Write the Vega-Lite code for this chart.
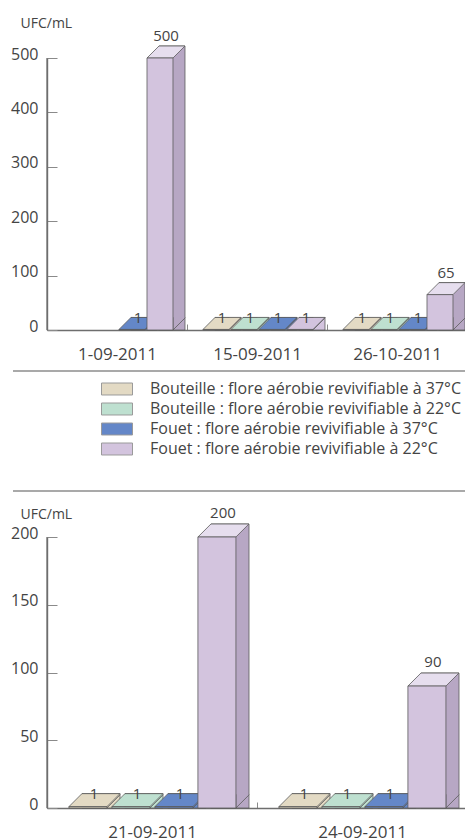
{
  "$schema": "https://vega.github.io/schema/vega-lite/v6.json",
  "padding": {"left": 9, "top": 15, "right": 0, "bottom": 0},
  "bounds": "flush",
  "spacing": 41,
  "config": {
    "view": {"stroke": null},
    "font": "Open Sans",
    "axis": {"labelFont": "Open Sans", "titleFont": "Open Sans", "labelColor": "#444", "titleColor": "#444", "domain": true, "domainWidth": 1.4, "domainColor": "#6e6e6e", "tickColor": "#8a8a8a", "tickWidth": 1, "grid": false, "titleFontWeight": "normal"},
    "legend": {"orient": "none", "legendX": 54, "legendY": 321, "title": null, "labelFont": "Open Sans", "labelFontSize": 16, "labelColor": "#444", "labelLimit": 400, "labelOffset": 17, "symbolType": "M-1,-0.387H1V0.387H-1Z", "symbolSize": 961, "symbolStrokeColor": "#9a9a9a", "symbolStrokeWidth": 1, "clipHeight": 20, "rowPadding": 0, "padding": 0}
  },
  "datasets": {
    "haut": [
      {"date": "1-09-2011", "serie": "Fouet : flore aérobie revivifiable à 37°C", "valeur": 1},
      {"date": "1-09-2011", "serie": "Fouet : flore aérobie revivifiable à 22°C", "valeur": 500},
      {"date": "15-09-2011", "serie": "Bouteille : flore aérobie revivifiable à 37°C", "valeur": 1},
      {"date": "15-09-2011", "serie": "Bouteille : flore aérobie revivifiable à 22°C", "valeur": 1},
      {"date": "15-09-2011", "serie": "Fouet : flore aérobie revivifiable à 37°C", "valeur": 1},
      {"date": "15-09-2011", "serie": "Fouet : flore aérobie revivifiable à 22°C", "valeur": 1},
      {"date": "26-10-2011", "serie": "Bouteille : flore aérobie revivifiable à 37°C", "valeur": 1},
      {"date": "26-10-2011", "serie": "Bouteille : flore aérobie revivifiable à 22°C", "valeur": 1},
      {"date": "26-10-2011", "serie": "Fouet : flore aérobie revivifiable à 37°C", "valeur": 1},
      {"date": "26-10-2011", "serie": "Fouet : flore aérobie revivifiable à 22°C", "valeur": 65}
    ],
    "bas": [
      {"date": "21-09-2011", "serie": "Bouteille : flore aérobie revivifiable à 37°C", "valeur": 1},
      {"date": "21-09-2011", "serie": "Bouteille : flore aérobie revivifiable à 22°C", "valeur": 1},
      {"date": "21-09-2011", "serie": "Fouet : flore aérobie revivifiable à 37°C", "valeur": 1},
      {"date": "21-09-2011", "serie": "Fouet : flore aérobie revivifiable à 22°C", "valeur": 200},
      {"date": "24-09-2011", "serie": "Bouteille : flore aérobie revivifiable à 37°C", "valeur": 1},
      {"date": "24-09-2011", "serie": "Bouteille : flore aérobie revivifiable à 22°C", "valeur": 1},
      {"date": "24-09-2011", "serie": "Fouet : flore aérobie revivifiable à 37°C", "valeur": 1},
      {"date": "24-09-2011", "serie": "Fouet : flore aérobie revivifiable à 22°C", "valeur": 90}
    ]
  },
  "vconcat": [
    {
      "width": 420,
      "height": 272,
      "view": {"stroke": "#6e6e6e", "strokeWidth": 1.4, "strokeDash": [0, 1112, 272, 0]},
      "data": {"name": "haut"},
      "encoding": {
        "x": {"field": "date", "type": "nominal", "sort": null, "scale": {"type": "band", "paddingInner": 0, "paddingOuter": 0},
              "axis": {"title": null, "labelAngle": 0, "labelFontSize": 17, "tickBand": "extent", "tickSize": -6, "labelPadding": 22}},
        "xOffset": {"field": "serie", "type": "nominal", "sort": null,
              "scale": {"type": "band", "domain": ["Bouteille : flore aérobie revivifiable à 37°C", "Bouteille : flore aérobie revivifiable à 22°C", "Fouet : flore aérobie revivifiable à 37°C", "Fouet : flore aérobie revivifiable à 22°C"], "paddingInner": 0.0714, "paddingOuter": 0.5357, "align": 0.533}},
        "y": {"field": "valeur", "type": "quantitative", "stack": null, "scale": {"domain": [0, 500], "nice": false},
              "axis": {"title": "UFC/mL", "domain": true, "titleAngle": 0, "titleAlign": "left", "titleBaseline": "alphabetic", "titleX": -27, "titleY": -31, "titleFontSize": 14, "values": [0, 100, 200, 300, 400, 500], "tickSize": -10, "labelPadding": 19, "labelFontSize": 16, "labelOffset": -4}},
        "color": {"field": "serie", "type": "nominal", "sort": null,
              "scale": {"domain": ["Bouteille : flore aérobie revivifiable à 37°C", "Bouteille : flore aérobie revivifiable à 22°C", "Fouet : flore aérobie revivifiable à 37°C", "Fouet : flore aérobie revivifiable à 22°C"], "range": ["#e3dac4", "#bee0d0", "#6487c8", "#d3c4de"]}}
      },
      "layer": [
        {
          "mark": {"type": "bar", "yOffset": -12, "y2Offset": -12, "stroke": "#5a5a5a", "strokeWidth": 0.8},
          "encoding": {
            "xOffset": {"field": "serie", "type": "nominal", "sort": null,
              "scale": {"type": "band", "domain": ["Bouteille : flore aérobie revivifiable à 37°C", "Bouteille : flore aérobie revivifiable à 22°C", "Fouet : flore aérobie revivifiable à 37°C", "Fouet : flore aérobie revivifiable à 22°C"], "paddingInner": 0.0714, "paddingOuter": 0.5357, "align": 0.933}},
            "color": {"field": "serie", "type": "nominal", "sort": null, "condition": {"test": "datum.valeur > 1", "value": "#b7a7c4"}}
          }
        },
        {
          "mark": {"type": "point", "shape": "M13,-12.7L13,0L25,-12L25,-12.7", "size": 4, "filled": true, "opacity": 1, "stroke": "#5a5a5a", "strokeWidth": 0.8},
          "encoding": {
            "y": {"datum": 0, "type": "quantitative"},
            "color": {"field": "serie", "type": "nominal", "sort": null, "condition": {"test": "datum.valeur > 1", "value": "#b7a7c4"}}
          }
        },
        {
          "mark": {"type": "point", "shape": "M-13,0L13,0L25,-12L-1,-12Z", "size": 4, "filled": true, "opacity": 1, "stroke": "#5a5a5a", "strokeWidth": 0.8},
          "encoding": {
            "color": {"field": "serie", "type": "nominal", "sort": null, "condition": {"test": "datum.valeur > 1", "value": "#e6deee"}}
          }
        },
        {
          "mark": {"type": "bar", "stroke": "#5a5a5a", "strokeWidth": 0.8}
        },
        {
          "transform": [{"filter": "datum.valeur > 1"}],
          "mark": {"type": "text", "dx": 6, "dy": -17, "fontSize": 15, "baseline": "alphabetic"},
          "encoding": {"text": {"field": "valeur", "type": "quantitative"}, "color": {"value": "#444"}}
        },
        {
          "transform": [{"filter": "datum.valeur <= 1"}],
          "mark": {"type": "text", "dx": 6, "dy": -6, "fontSize": 15, "baseline": "alphabetic"},
          "encoding": {"text": {"field": "valeur", "type": "quantitative"}, "color": {"value": "#444"}}
        }
      ],
      "resolve": {"scale": {"xOffset": "independent"}}
    },
    {
      "width": 420,
      "height": 125,
      "data": {"values": [{"separateur": "ligne"}]},
      "layer": [
        {
          "mark": {"type": "rule", "stroke": "#8c8c8c", "strokeWidth": 1.5},
          "encoding": {
            "x": {"datum": -0.081, "type": "quantitative", "scale": {"domain": [0, 1], "nice": false, "zero": false}, "axis": null},
            "x2": {"datum": 1},
            "y": {"datum": 1, "type": "quantitative", "scale": {"domain": [0, 1], "nice": false}, "axis": null}
          }
        },
        {
          "mark": {"type": "rule", "stroke": "#8c8c8c", "strokeWidth": 1.5},
          "encoding": {
            "x": {"datum": -0.081, "type": "quantitative", "scale": {"domain": [0, 1], "nice": false, "zero": false}, "axis": null},
            "x2": {"datum": 1},
            "y": {"datum": 0.04, "type": "quantitative", "scale": {"domain": [0, 1], "nice": false}, "axis": null}
          }
        }
      ]
    },
    {
      "width": 420,
      "height": 271,
      "view": {"stroke": "#6e6e6e", "strokeWidth": 1.4, "strokeDash": [0, 1111, 271, 0]},
      "data": {"name": "bas"},
      "encoding": {
        "x": {"field": "date", "type": "nominal", "sort": null, "scale": {"type": "band", "paddingInner": 0, "paddingOuter": 0},
              "axis": {"title": null, "labelAngle": 0, "labelFontSize": 17, "tickBand": "extent", "tickSize": -6, "labelPadding": 22}},
        "xOffset": {"field": "serie", "type": "nominal", "sort": null,
              "scale": {"type": "band", "domain": ["Bouteille : flore aérobie revivifiable à 37°C", "Bouteille : flore aérobie revivifiable à 22°C", "Fouet : flore aérobie revivifiable à 37°C", "Fouet : flore aérobie revivifiable à 22°C"], "paddingInner": 0.116, "paddingOuter": 0.5, "align": 0.51}},
        "y": {"field": "valeur", "type": "quantitative", "stack": null, "scale": {"domain": [0, 200], "nice": false},
              "axis": {"title": "UFC/mL", "domain": true, "titleAngle": 0, "titleAlign": "left", "titleBaseline": "alphabetic", "titleX": -27, "titleY": -19, "titleFontSize": 14, "values": [0, 50, 100, 150, 200], "tickSize": -10, "labelPadding": 19, "labelFontSize": 16, "labelOffset": -4}},
        "color": {"field": "serie", "type": "nominal", "sort": null,
              "scale": {"domain": ["Bouteille : flore aérobie revivifiable à 37°C", "Bouteille : flore aérobie revivifiable à 22°C", "Fouet : flore aérobie revivifiable à 37°C", "Fouet : flore aérobie revivifiable à 22°C"], "range": ["#e3dac4", "#bee0d0", "#6487c8", "#d3c4de"]}}
      },
      "layer": [
        {
          "mark": {"type": "bar", "yOffset": -13, "y2Offset": -13, "stroke": "#5a5a5a", "strokeWidth": 0.8},
          "encoding": {
            "xOffset": {"field": "serie", "type": "nominal", "sort": null,
              "scale": {"type": "band", "domain": ["Bouteille : flore aérobie revivifiable à 37°C", "Bouteille : flore aérobie revivifiable à 22°C", "Fouet : flore aérobie revivifiable à 37°C", "Fouet : flore aérobie revivifiable à 22°C"], "paddingInner": 0.116, "paddingOuter": 0.5, "align": 0.814}},
            "color": {"field": "serie", "type": "nominal", "sort": null, "condition": {"test": "datum.valeur > 1", "value": "#b7a7c4"}}
          }
        },
        {
          "mark": {"type": "point", "shape": "M19,-13.7L19,0L32,-13L32,-13.7", "size": 4, "filled": true, "opacity": 1, "stroke": "#5a5a5a", "strokeWidth": 0.8},
          "encoding": {
            "y": {"datum": 0, "type": "quantitative"},
            "color": {"field": "serie", "type": "nominal", "sort": null, "condition": {"test": "datum.valeur > 1", "value": "#b7a7c4"}}
          }
        },
        {
          "mark": {"type": "point", "shape": "M-19,0L19,0L32,-13L-6,-13Z", "size": 4, "filled": true, "opacity": 1, "stroke": "#5a5a5a", "strokeWidth": 0.8},
          "encoding": {
            "color": {"field": "serie", "type": "nominal", "sort": null, "condition": {"test": "datum.valeur > 1", "value": "#e6deee"}}
          }
        },
        {
          "mark": {"type": "bar", "stroke": "#5a5a5a", "strokeWidth": 0.8}
        },
        {
          "transform": [{"filter": "datum.valeur > 1"}],
          "mark": {"type": "text", "dx": 6, "dy": -19, "fontSize": 15, "baseline": "alphabetic"},
          "encoding": {"text": {"field": "valeur", "type": "quantitative"}, "color": {"value": "#444"}}
        },
        {
          "transform": [{"filter": "datum.valeur <= 1"}],
          "mark": {"type": "text", "dx": 6, "dy": -8, "fontSize": 15, "baseline": "alphabetic"},
          "encoding": {"text": {"field": "valeur", "type": "quantitative"}, "color": {"value": "#444"}}
        }
      ],
      "resolve": {"scale": {"xOffset": "independent"}}
    }
  ]
}
